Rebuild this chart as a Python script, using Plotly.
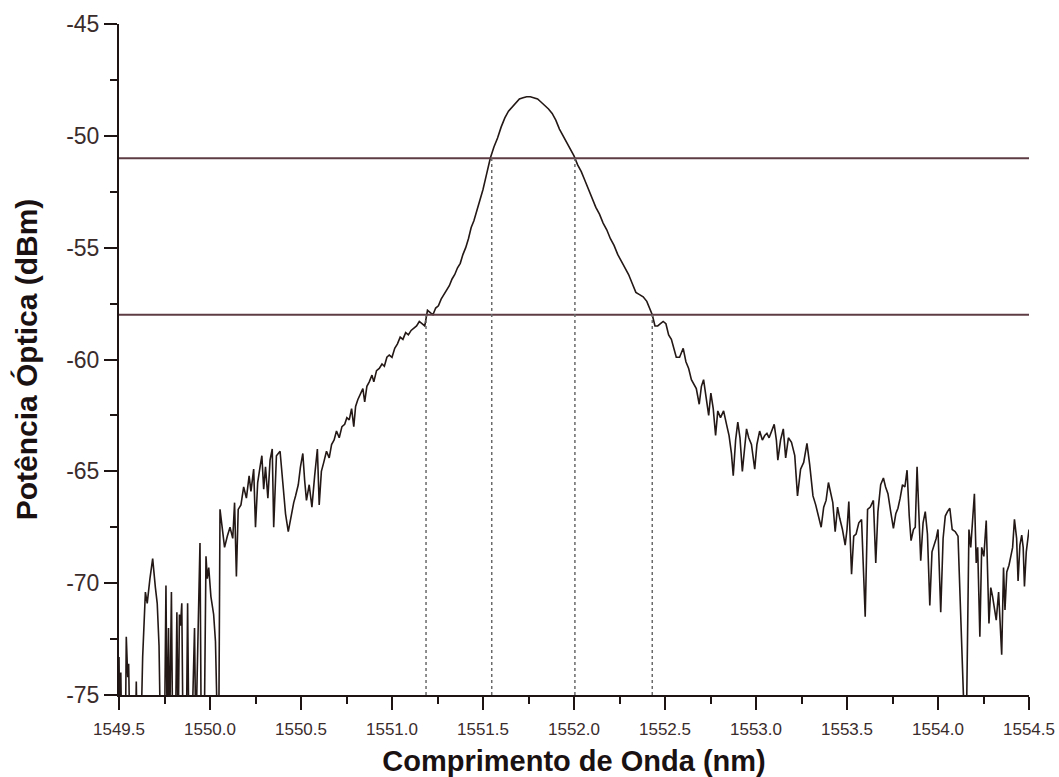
import plotly.graph_objects as go

# Optical spectrum trace (wavelength in nm, power in dBm)
wavelength_nm = [
    1549.500, 1549.505, 1549.510, 1549.515, 1549.535, 1549.540, 1549.548, 1549.553,
    1549.560, 1549.590, 1549.595, 1549.600, 1549.620, 1549.630, 1549.645, 1549.655,
    1549.670, 1549.685, 1549.700, 1549.710, 1549.720, 1549.728, 1549.750, 1549.758,
    1549.765, 1549.772, 1549.778, 1549.788, 1549.795, 1549.810, 1549.818, 1549.825,
    1549.832, 1549.838, 1549.845, 1549.852, 1549.870, 1549.877, 1549.884, 1549.900,
    1549.915, 1549.922, 1549.935, 1549.945, 1549.952, 1549.968, 1549.978, 1549.985,
    1549.993, 1550.005, 1550.020, 1550.030, 1550.042, 1550.048, 1550.055, 1550.065,
    1550.080, 1550.095, 1550.110, 1550.125, 1550.135, 1550.145, 1550.155, 1550.170,
    1550.185, 1550.200, 1550.215, 1550.225, 1550.240, 1550.250, 1550.262, 1550.275,
    1550.285, 1550.295, 1550.305, 1550.318, 1550.330, 1550.342, 1550.350, 1550.365,
    1550.385, 1550.400, 1550.415, 1550.430, 1550.445, 1550.460, 1550.470, 1550.485,
    1550.497, 1550.510, 1550.520, 1550.530, 1550.545, 1550.560, 1550.575, 1550.590,
    1550.600, 1550.612, 1550.625, 1550.640, 1550.655, 1550.668, 1550.682, 1550.695,
    1550.710, 1550.725, 1550.740, 1550.752, 1550.765, 1550.778, 1550.790, 1550.800,
    1550.812, 1550.825, 1550.840, 1550.850, 1550.862, 1550.875, 1550.890, 1550.900,
    1550.915, 1550.930, 1550.945, 1550.958, 1550.972, 1550.985, 1551.000, 1551.015,
    1551.030, 1551.045, 1551.060, 1551.075, 1551.090, 1551.105, 1551.120, 1551.135,
    1551.150, 1551.165, 1551.180, 1551.195, 1551.210, 1551.225, 1551.240, 1551.255,
    1551.270, 1551.285, 1551.300, 1551.315, 1551.330, 1551.345, 1551.360, 1551.375,
    1551.390, 1551.405, 1551.420, 1551.435, 1551.450, 1551.465, 1551.480, 1551.500,
    1551.520, 1551.540, 1551.560, 1551.580, 1551.600, 1551.620, 1551.640, 1551.660,
    1551.680, 1551.700, 1551.720, 1551.740, 1551.760, 1551.780, 1551.800, 1551.820,
    1551.840, 1551.860, 1551.880, 1551.900, 1551.920, 1551.940, 1551.960, 1551.980,
    1552.000, 1552.020, 1552.040, 1552.060, 1552.080, 1552.100, 1552.120, 1552.140,
    1552.160, 1552.180, 1552.200, 1552.220, 1552.240, 1552.260, 1552.280, 1552.300,
    1552.320, 1552.340, 1552.360, 1552.380, 1552.400, 1552.415, 1552.430, 1552.445,
    1552.460, 1552.475, 1552.490, 1552.505, 1552.520, 1552.535, 1552.550, 1552.562,
    1552.580, 1552.600, 1552.615, 1552.630, 1552.645, 1552.660, 1552.672, 1552.688,
    1552.700, 1552.712, 1552.725, 1552.740, 1552.752, 1552.765, 1552.778, 1552.790,
    1552.805, 1552.822, 1552.838, 1552.852, 1552.865, 1552.875, 1552.888, 1552.900,
    1552.912, 1552.925, 1552.937, 1552.948, 1552.960, 1552.975, 1552.993, 1553.005,
    1553.020, 1553.035, 1553.048, 1553.060, 1553.072, 1553.085, 1553.100, 1553.112,
    1553.120, 1553.135, 1553.150, 1553.163, 1553.178, 1553.195, 1553.213, 1553.228,
    1553.245, 1553.262, 1553.280, 1553.295, 1553.313, 1553.328, 1553.340, 1553.358,
    1553.372, 1553.385, 1553.398, 1553.410, 1553.422, 1553.435, 1553.448, 1553.460,
    1553.475, 1553.490, 1553.500, 1553.510, 1553.525, 1553.537, 1553.550, 1553.565,
    1553.580, 1553.600, 1553.613, 1553.628, 1553.645, 1553.658, 1553.670, 1553.685,
    1553.700, 1553.712, 1553.725, 1553.740, 1553.755, 1553.768, 1553.780, 1553.792,
    1553.805, 1553.818, 1553.830, 1553.842, 1553.852, 1553.865, 1553.875, 1553.885,
    1553.905, 1553.918, 1553.930, 1553.942, 1553.955, 1553.967, 1553.978, 1553.990,
    1554.000, 1554.015, 1554.028, 1554.040, 1554.052, 1554.065, 1554.078, 1554.095,
    1554.110, 1554.128, 1554.140, 1554.148, 1554.155, 1554.162, 1554.170, 1554.180,
    1554.188, 1554.200, 1554.210, 1554.218, 1554.230, 1554.240, 1554.252, 1554.265,
    1554.280, 1554.290, 1554.300, 1554.310, 1554.320, 1554.333, 1554.350, 1554.360,
    1554.368, 1554.378, 1554.390, 1554.400, 1554.410, 1554.420, 1554.432, 1554.440,
    1554.450, 1554.460, 1554.468, 1554.475, 1554.485, 1554.500,
]

power_dbm = [
    -73.3, -77.0, -74.0, -77.0, -77.0, -72.4, -74.2, -73.6,
    -77.0, -77.0, -74.4, -77.0, -77.0, -73.3, -70.4, -70.9,
    -69.8, -68.9, -70.2, -70.9, -72.8, -77.0, -77.0, -70.1,
    -77.0, -72.0, -77.0, -70.4, -77.0, -77.0, -71.3, -77.0,
    -71.4, -71.9, -70.9, -77.0, -77.0, -70.9, -77.0, -77.0,
    -72.0, -77.0, -72.0, -68.2, -77.0, -77.0, -68.8, -69.8,
    -69.3, -70.6, -71.4, -72.6, -77.0, -77.0, -66.7, -67.3,
    -68.4, -67.9, -67.5, -68.0, -66.4, -69.7, -66.7, -66.5,
    -65.7, -66.2, -65.2, -65.9, -64.9, -67.5, -65.5, -64.8,
    -64.3, -65.8, -64.8, -66.2, -64.5, -64.0, -67.5, -64.3,
    -64.1, -65.5, -66.9, -67.7, -67.0, -66.4, -66.1, -65.6,
    -64.8, -64.2, -65.4, -66.3, -65.6, -66.6, -65.2, -64.0,
    -66.5, -65.0, -64.6, -64.1, -64.4, -63.8, -63.6, -63.2,
    -63.5, -63.0, -62.9, -62.6, -62.7, -62.2, -63.0, -62.1,
    -61.8, -61.6, -61.3, -61.9, -61.2, -61.0, -60.7, -61.0,
    -60.5, -60.4, -60.2, -60.3, -59.9, -59.8, -59.9, -59.5,
    -59.3, -59.0, -59.1, -58.8, -58.9, -58.7, -58.6, -58.5,
    -58.3, -58.4, -58.5, -57.8, -57.9, -58.0, -57.7, -57.6,
    -57.3, -57.1, -56.9, -56.7, -56.4, -56.2, -55.9, -55.7,
    -55.3, -55.0, -54.6, -54.1, -53.8, -53.4, -52.9, -52.4,
    -51.7, -51.0, -50.5, -50.1, -49.6, -49.2, -48.9, -48.7,
    -48.5, -48.35, -48.3, -48.25, -48.25, -48.3, -48.35, -48.5,
    -48.65, -48.8, -49.0, -49.3, -49.7, -50.0, -50.3, -50.6,
    -50.9, -51.3, -51.6, -52.0, -52.4, -52.8, -53.2, -53.5,
    -53.9, -54.2, -54.6, -54.9, -55.3, -55.6, -55.9, -56.2,
    -56.6, -57.0, -57.1, -57.2, -57.4, -57.7, -58.0, -58.5,
    -58.5, -58.4, -58.3, -58.4, -58.9, -59.1, -59.5, -59.9,
    -59.9, -59.5, -60.1, -60.4, -60.9, -61.1, -61.3, -62.0,
    -61.2, -60.9, -61.6, -62.5, -61.5, -62.2, -63.4, -62.3,
    -62.6, -62.3, -62.9, -63.4, -64.2, -65.2, -63.6, -62.8,
    -63.5, -65.0, -64.0, -63.1, -63.5, -63.8, -64.9, -63.8,
    -63.2, -63.6, -63.4, -63.3, -63.5, -63.2, -62.9, -63.6,
    -64.5, -63.6, -63.1, -64.4, -63.5, -63.7, -64.3, -66.1,
    -64.9, -64.6, -63.75, -64.7, -66.1, -66.5, -66.9, -67.5,
    -66.6, -66.3, -65.5, -66.0, -66.4, -67.7, -66.6, -67.1,
    -67.6, -68.3, -67.6, -66.35, -69.6, -67.9, -67.8, -67.3,
    -67.15, -71.5, -66.7, -66.6, -66.3, -69.1, -66.8, -65.6,
    -65.3, -65.7, -66.0, -66.8, -67.55, -66.9, -66.65, -66.2,
    -65.6, -65.7, -64.95, -67.0, -68.1, -67.6, -67.5, -64.8,
    -69.0, -67.3, -66.8, -67.8, -71.0, -68.6, -68.3, -68.0,
    -67.6, -71.3, -68.0, -67.0, -66.8, -66.65, -67.6, -67.7,
    -67.9, -71.65, -74.5, -77.0, -77.0, -72.0, -67.6, -68.4,
    -67.5, -66.0, -69.1, -68.4, -72.4, -68.4, -68.8, -67.2,
    -71.8, -70.2, -70.6, -71.2, -71.65, -70.4, -73.2, -69.3,
    -71.2, -69.5, -69.2, -68.8, -68.4, -67.15, -68.0, -69.9,
    -68.3, -67.85, -68.4, -70.15, -68.6, -67.6,
]

# Reference power levels and the wavelengths where the trace crosses them
level_dbm = [-51.0, -58.0]
inner_cross_nm = [1551.548, 1552.005]   # crossings of the -51 dBm level
outer_cross_nm = [1551.187, 1552.430]   # crossings of the -58 dBm level

# Axis ticks
x_tick_vals = [1549.5, 1550.0, 1550.5, 1551.0, 1551.5, 1552.0, 1552.5, 1553.0, 1553.5, 1554.0, 1554.5]
x_tick_text = ["1549.5", "1550.0", "1550.5", "1551.0", "1551.5", "1552.0",
               "1552.5", "1553.0", "1553.5", "1554.0", "1554.5"]
y_tick_vals = [-75, -70, -65, -60, -55, -50, -45]
y_tick_text = ["-75", "-70", "-65", "-60", "-55", "-50", "-45"]

x_range = [1549.5, 1554.5]
y_range = [-75, -45]

trace_color = "#231815"
level_color = "#5e3c44"
marker_color = "#6a6a6a"
axis_color = "#1e1414"
label_color = "#3b2c2c"

fig = go.Figure()

fig.add_trace(go.Scatter(
    x=wavelength_nm, y=power_dbm, mode="lines",
    line=dict(color=trace_color, width=1.6),
    showlegend=False, hoverinfo="x+y",
))

# Horizontal level lines across the whole plot
for lvl in level_dbm:
    fig.add_shape(type="line", xref="paper", x0=0, x1=1, yref="y", y0=lvl, y1=lvl,
                  line=dict(color=level_color, width=2), layer="above")

# Dotted drop lines from the crossings down to the axis
for xc in inner_cross_nm:
    fig.add_shape(type="line", xref="x", x0=xc, x1=xc, yref="y", y0=y_range[0], y1=level_dbm[0],
                  line=dict(color=marker_color, width=1.5, dash="dot"), layer="above")
for xc in outer_cross_nm:
    fig.add_shape(type="line", xref="x", x0=xc, x1=xc, yref="y", y0=y_range[0], y1=level_dbm[1],
                  line=dict(color=marker_color, width=1.5, dash="dot"), layer="above")

fig.update_layout(
    width=1059, height=777,
    margin=dict(l=119, r=30, t=24, b=82),
    paper_bgcolor="white", plot_bgcolor="white",
    font=dict(family="Liberation Sans, Arial, sans-serif", color=label_color),
    showlegend=False,
)

fig.update_xaxes(
    range=x_range, tickmode="array", tickvals=x_tick_vals, ticktext=x_tick_text,
    showline=True, linecolor=axis_color, linewidth=2,
    ticks="outside", ticklen=13, tickwidth=2, tickcolor=axis_color,
    minor=dict(ticks="outside", ticklen=7, tickwidth=2, tickcolor=axis_color, dtick=0.25, tick0=1549.5),
    showgrid=False, zeroline=False, automargin=False,
    ticklabelstandoff=5,
    tickfont=dict(size=17, color=label_color),
    title=dict(text="<b>Comprimento de Onda (nm)</b>", font=dict(size=29, color="#1a1212"), standoff=16),
)

fig.update_yaxes(
    range=y_range, tickmode="array", tickvals=y_tick_vals, ticktext=y_tick_text,
    showline=True, linecolor=axis_color, linewidth=2,
    ticks="outside", ticklen=13, tickwidth=2, tickcolor=axis_color,
    minor=dict(ticks="outside", ticklen=7, tickwidth=2, tickcolor=axis_color, dtick=2.5, tick0=-75),
    showgrid=False, zeroline=False, automargin=False,
    tickfont=dict(size=23, color=label_color),
    title=dict(text="<b>Potência Óptica (dBm)</b>", font=dict(size=30, color="#1a1212"), standoff=20),
)

fig.write_html("out.html")
